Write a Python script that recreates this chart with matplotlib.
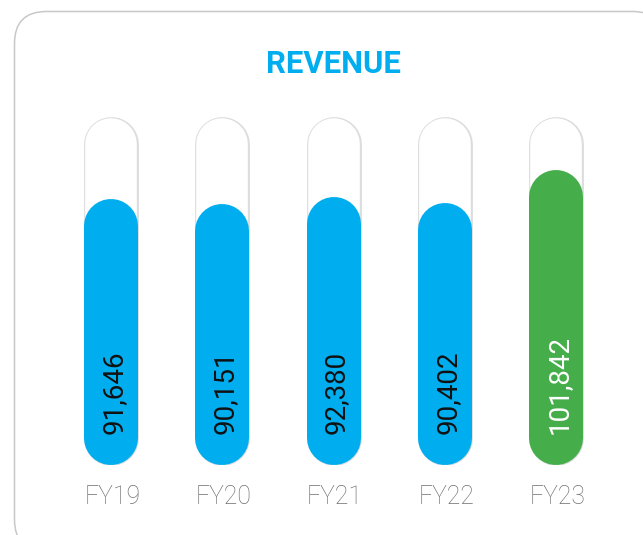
import matplotlib
matplotlib.use("Agg")
import matplotlib.pyplot as plt
from matplotlib.patches import FancyBboxPatch
from matplotlib import transforms

categories = ["FY19", "FY20", "FY21", "FY22", "FY23"]
values = [91646, 90151, 92380, 90402, 101842]
value_labels = ["91,646", "90,151", "92,380", "90,402", "101,842"]
scale_max = 120000
title = "REVENUE"

BLUE = "#00AEEF"
GREEN = "#45AE4B"
bar_colors = [BLUE, BLUE, BLUE, BLUE, GREEN]
label_colors = ["#111111", "#111111", "#111111", "#111111", "#FFFFFF"]

W, H, DPI = 643, 535, 100
fig = plt.figure(figsize=(W / DPI, H / DPI), dpi=DPI)
fig.patch.set_facecolor("white")

# background card in pixel coordinates
bg = fig.add_axes([0, 0, 1, 1], zorder=0)
bg.set_xlim(0, W)
bg.set_ylim(H, 0)
bg.axis("off")
card = FancyBboxPatch((14.5, 11.5), 650, 540, boxstyle="round,pad=0,rounding_size=32",
                      facecolor="white", edgecolor="#c8c8c8", linewidth=1.1)
bg.add_patch(card)

# main axes
y_bottom_px, y_top_px = 465, 117
x0_px, dx_px = 111, 111.25
ax = fig.add_axes([0, (H - y_bottom_px) / H, 1, (y_bottom_px - y_top_px) / H], zorder=1)
ax.set_xlim(-x0_px / dx_px, (W - x0_px) / dx_px)
ax.set_ylim(0, scale_max)
ax.axis("off")
ax.patch.set_visible(False)

px_per_val = (y_bottom_px - y_top_px) / scale_max
pt = 72.0 / DPI
bar_w = 54.0
r_val = (bar_w / 2) / px_per_val

def pill(x, top, color, width_px, z):
    ax.plot([x, x], [r_val, top - r_val], color=color, linewidth=width_px * pt,
            solid_capstyle="round", zorder=z)

for i, (v, c) in enumerate(zip(values, bar_colors)):
    pill(i, scale_max, "#dcdcdc", bar_w + 0.8, 1)
    pill(i, scale_max, "white", bar_w - 2.4, 2)
    pill(i, v, c, bar_w, 3)
    tr = transforms.offset_copy(ax.transData, fig=fig, x=10.5, y=31, units="dots")
    ax.text(i, 0, value_labels[i], transform=tr, rotation=90, rotation_mode="anchor",
            ha="left", va="baseline", color=label_colors[i], fontsize=20,
            family=["Roboto", "DejaVu Sans"], zorder=4)
    trl = transforms.offset_copy(ax.transData, fig=fig, x=1.5, y=-(504.3 - y_bottom_px), units="dots")
    ax.text(i, 0, categories[i], transform=trl, ha="center", va="baseline",
            color="#6f6f6f", fontsize=17.8, family=["Roboto", "DejaVu Sans"],
            fontweight="light", zorder=4)

fig.text(333.5 / W, 1 - 72.7 / H, title, ha="center", va="baseline", color=BLUE,
         fontsize=22.3, fontweight="bold", family=["Roboto", "DejaVu Sans"])

fig.savefig("out.png", dpi=DPI)
